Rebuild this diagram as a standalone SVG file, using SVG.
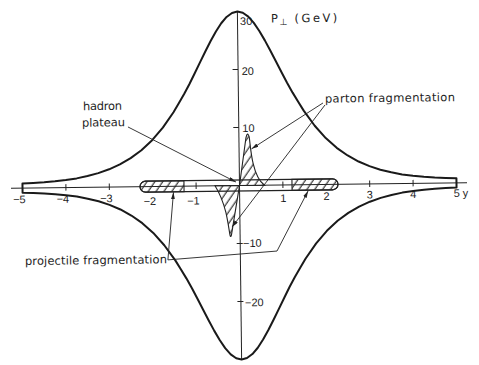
<svg xmlns="http://www.w3.org/2000/svg" width="479" height="365" viewBox="0 0 479 365">
<style>
.ax{stroke:#222;stroke-width:1;fill:none}
.env{stroke:#1a1a1a;stroke-width:2;fill:none;stroke-linejoin:round}
.ln{stroke:#222;stroke-width:0.9;fill:none}
.lbl{font-family:"DejaVu Sans","Liberation Sans",sans-serif;font-size:11.5px;fill:#1e1e1e}
.num{font-family:"Liberation Sans",Arial,sans-serif;font-size:11px;fill:#1e1e1e}
.hat{fill:url(#hatch);stroke:#222;stroke-width:1.1}
</style>
<defs>
<pattern id="hatch" patternUnits="userSpaceOnUse" width="6.5" height="6.5" patternTransform="rotate(35)">
<line x1="3" y1="0" x2="3" y2="6.5" stroke="#222" stroke-width="1.1"/>
</pattern>
<marker id="arr" markerUnits="userSpaceOnUse" markerWidth="8" markerHeight="5" refX="7" refY="2" orient="auto">
<path d="M0,0 L7,2 L0,4 z" fill="#222"/>
</marker>
</defs>
<rect width="479" height="365" fill="#fff"/>
<g transform="rotate(-0.7 239.5 185.5)">
<g id="axes">
<line class="ax" x1="11" y1="185.5" x2="467" y2="185.5"/>
<line class="ax" x1="239.5" y1="11.5" x2="239.5" y2="359.5"/>
<path class="ax" d="M22.5,182V188.5M65.9,182V188.5M109.3,182V188.5M196.1,182V188.5M282.9,182V188.5M369.7,182V188.5M413.1,182V188.5M456.5,182V188.5"/>
<path class="ax" d="M234,69.5H239.5M234,127.5H239.5M236,243.5H242M236,301.5H242"/>
<text class="num" x="25.5" y="200.5" text-anchor="end">−5</text>
<text class="num" x="69" y="200.5" text-anchor="end">−4</text>
<text class="num" x="112.5" y="200.5" text-anchor="end">−3</text>
<text class="num" x="156" y="204" text-anchor="end">−2</text>
<text class="num" x="199.5" y="204" text-anchor="end">−1</text>
<text class="num" x="283" y="202.5" text-anchor="middle">1</text>
<text class="num" x="326.3" y="201" text-anchor="middle">2</text>
<text class="num" x="369.7" y="200" text-anchor="middle">3</text>
<text class="num" x="413.1" y="200" text-anchor="middle">4</text>
<text class="num" x="453.5" y="199.5">5 y</text>
<text class="num" x="242" y="25">30</text>
<text class="num" x="243" y="75">20</text>
<text class="num" x="243" y="132">10</text>
<text class="num" x="242.3" y="247">−10</text>
<text class="num" x="243.5" y="306.5">−20</text>
<text class="lbl" y="23"><tspan x="273">P</tspan><tspan x="281.5" y="25.5" font-size="9">⊥</tspan><tspan x="296.5" y="23" letter-spacing="2.5">(GeV)</tspan></text>
</g>
<g id="envelope">
<path class="env" d="M22.5,180.8 L33.35,180.4 L44.2,179.9 L55.05,179.1 L65.9,177.9 L76.75,176.4 L87.6,174.2 L98.45,171.4 L109.3,167.7 L120.15,163 L131,156.8 L141.85,149 L152.7,139.1 L163.55,126.7 L174.4,111.4 L179.8,102.5 L185.25,93.3 L190.7,83.4 L196.1,72.7 L201.5,61.9 L206.95,51.1 L212.4,40.7 L217.8,31.2 L223.2,23.05 L228.65,16.8 L234.1,12.85 L239.5,11.45 L244.9,12.85 L250.35,16.8 L255.8,23.05 L261.2,31.2 L266.6,40.7 L272.05,51.1 L277.5,61.9 L282.9,72.7 L288.3,83.4 L293.75,93.3 L299.2,102.5 L304.6,111.4 L315.45,126.7 L326.3,139.1 L337.15,149 L348,156.8 L358.85,163 L369.7,167.7 L380.55,171.4 L391.4,174.2 L402.25,176.4 L413.1,177.9 L423.95,179.1 L434.8,179.9 L445.65,180.4 L456.5,180.8 L456.5,190.2 L445.65,190.6 L434.8,191.1 L423.95,191.9 L413.1,193.1 L402.25,194.6 L391.4,196.8 L380.55,199.6 L369.7,203.3 L358.85,208 L348,214.2 L337.15,222 L326.3,231.9 L315.45,244.3 L304.6,259.6 L299.2,268.5 L293.75,277.7 L288.3,287.6 L282.9,298.3 L277.5,309.1 L272.05,319.9 L266.6,330.3 L261.2,339.8 L255.8,347.95 L250.35,354.2 L244.9,358.15 L239.5,359.55 L234.1,358.15 L228.65,354.2 L223.2,347.95 L217.8,339.8 L212.4,330.3 L206.95,319.9 L201.5,309.1 L196.1,298.3 L190.7,287.6 L185.25,277.7 L179.8,268.5 L174.4,259.6 L163.55,244.3 L152.7,231.9 L141.85,222 L131,214.2 L120.15,208 L109.3,203.3 L98.45,199.6 L87.6,196.8 L76.75,194.6 L65.9,193.1 L55.05,191.9 L44.2,191.1 L33.35,190.6 L22.5,190.2 Z"/>
</g>
<g id="hadron-plateau">
<path class="hat" d="M184,180 H145.5 A5.5,5.5 0 0 0 145.5,191 H184 Z"/>
<path class="hat" d="M292,180 H332.5 A5.5,5.5 0 0 1 332.5,191 H292 Z"/>
<rect x="140" y="180" width="198" height="11" rx="5.5" fill="none" stroke="#222" stroke-width="1.2"/>
</g>
<g id="parton-peaks">
<path class="hat" d="M239.5,185.5 C241,175 243.5,158 246.5,138 Q248,131 249.8,137 C251,148 251.5,156 253.5,164 C255.5,173 258.5,181 264.5,185.5 Z"/>
<path class="hat" d="M215,185.5 C219,192 223,202 225.5,212 C227.5,221 228.5,230 229.5,235.5 Q230.3,238 231,234 L239.5,185.5 Z"/>
</g>
<g id="labels">
<text class="lbl" x="84" y="108.3" font-size="11" textLength="39">hadron</text>
<text class="lbl" x="82.7" y="124.8" font-size="11" textLength="43">plateau</text>
<text class="lbl" x="326" y="103.7" textLength="130">parton fragmentation</text>
<text class="lbl" x="24" y="262.4" textLength="142">projectile fragmentation</text>
</g>
<g id="connectors">
<path class="ln" d="M128.7,125.6 L236,182" marker-end="url(#arr)"/>
<path class="ln" d="M324,104 L252,149" marker-end="url(#arr)"/>
<path class="ln" d="M326,106 L231.5,227" marker-end="url(#arr)"/>
<path class="ln" d="M167,259 L173.4,191.5" marker-end="url(#arr)"/>
<path class="ln" d="M167,259 L276.2,251.5 L308,191.8" marker-end="url(#arr)"/>
</g>
</g>
</svg>
